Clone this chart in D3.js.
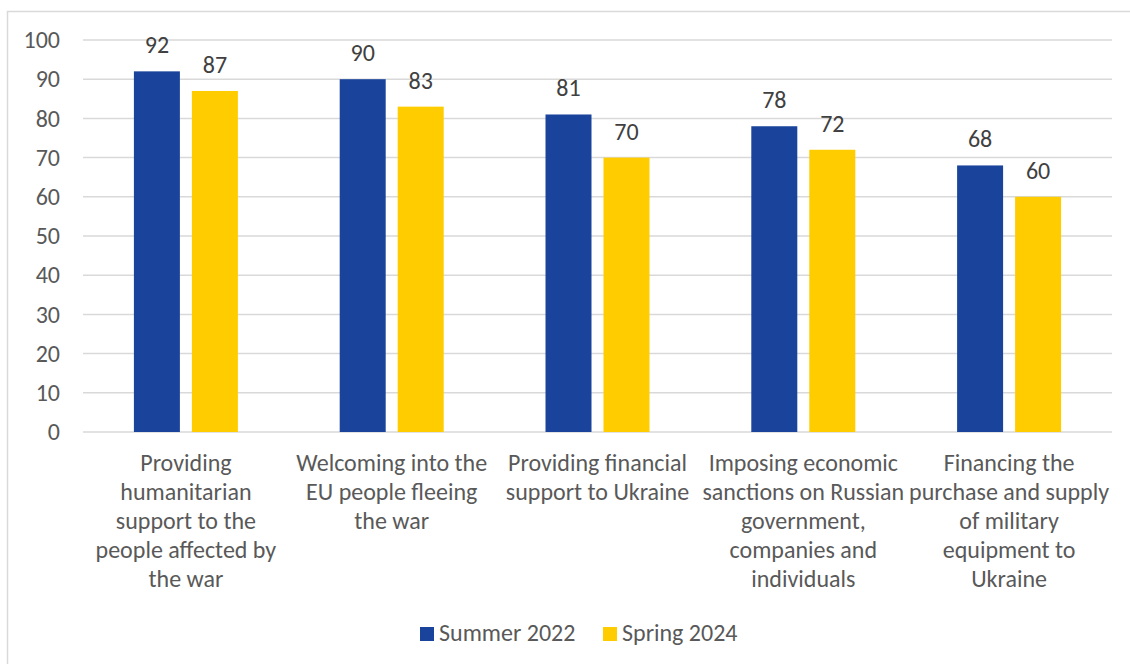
<!DOCTYPE html>
<html>
<head>
<meta charset="utf-8">
<script src="https://cdn.jsdelivr.net/npm/d3@7"></script>
<style>
  body { margin: 0; background: #fff; }
  svg text { font-family: Carlito, Calibri, Lato, "Open Sans", sans-serif; }
</style>
</head>
<body>
<svg id="chart"></svg>
<script>
// categories (wrapped as in the picture)
const categories = [
  ["Providing", "humanitarian", "support to the", "people affected by", "the war"],
  ["Welcoming into the", "EU people fleeing", "the war"],
  ["Providing financial", "support to Ukraine"],
  ["Imposing economic", "sanctions on Russian", "government,", "companies and", "individuals"],
  ["Financing the", "purchase and supply", "of military", "equipment to", "Ukraine"]
];
const seriesNames = ["Summer 2022", "Spring 2024"];
const summer2022 = [92, 90, 81, 78, 68];
const spring2024 = [87, 83, 70, 72, 60];
const yTicks = [0, 10, 20, 30, 40, 50, 60, 70, 80, 90, 100];
const colors = ["#1a449b", "#ffcc00"];

const W = 1130, H = 664;
const margin = { top: 40, right: 18, bottom: 232, left: 83 };
const width = W - margin.left - margin.right;
const height = H - margin.top - margin.bottom;
const fs = 24;

const svg = d3.select("#chart").attr("width", W).attr("height", H);

// outer frame
svg.append("rect")
  .attr("x", 7.5).attr("y", 11.5)
  .attr("width", W + 20).attr("height", H + 20)
  .attr("fill", "none").attr("stroke", "#d9d9d9").attr("stroke-width", 1.5);

const g = svg.append("g").attr("transform", `translate(${margin.left},${margin.top})`);

const idx = d3.range(categories.length);
const x = d3.scaleBand().domain(idx).range([0, width]).paddingInner(0).paddingOuter(0);
const y = d3.scaleLinear().domain([0, 100]).range([height, 0]);

// gridlines
g.append("g").selectAll("line").data(yTicks).join("line")
  .attr("x1", 0).attr("x2", width)
  .attr("y1", d => y(d)).attr("y2", d => y(d))
  .attr("stroke", "#d9d9d9").attr("stroke-width", 1.5);

// y axis labels
const yAxis = g.append("g").call(d3.axisLeft(y).tickValues(yTicks).tickSize(0).tickPadding(23));
yAxis.select(".domain").remove();
yAxis.selectAll("text")
  .style("font-family", "Carlito, Calibri, Lato, 'Open Sans', sans-serif")
  .attr("font-size", fs).attr("fill", "#595959");

// bars
const barW = 46, gap = 12;
const series = [summer2022, spring2024];
series.forEach((vals, s) => {
  const off = s === 0 ? -gap / 2 - barW : gap / 2;
  const cx = i => x(i) + x.bandwidth() / 2 + off;
  g.append("g").selectAll("rect").data(vals).join("rect")
    .attr("x", (d, i) => cx(i))
    .attr("y", d => y(d))
    .attr("width", barW)
    .attr("height", d => height - y(d))
    .attr("fill", colors[s]);
  g.append("g").selectAll("text").data(vals).join("text")
    .attr("x", (d, i) => cx(i) + barW / 2)
    .attr("y", d => y(d) - 18)
    .attr("text-anchor", "middle")
    .attr("font-size", fs).attr("fill", "#404040")
    .text(d => d);
});

// category labels
const cat = g.append("g").selectAll("text").data(categories).join("text")
  .attr("text-anchor", "middle")
  .attr("font-size", fs).attr("fill", "#595959")
  .attr("transform", (d, i) => `translate(${x(i) + x.bandwidth() / 2},${height + 39})`);
cat.selectAll("tspan").data(d => d).join("tspan")
  .attr("x", 0).attr("dy", (d, j) => j === 0 ? 0 : 29)
  .text(d => d);

// legend
const legend = svg.append("g").attr("transform", "translate(420,627)");
const items = [{ x: 0 }, { x: 183 }];
seriesNames.forEach((name, s) => {
  const it = legend.append("g").attr("transform", `translate(${items[s].x},0)`);
  it.append("rect").attr("width", 14).attr("height", 14).attr("fill", colors[s]);
  it.append("text").attr("x", 19).attr("y", 14)
    .attr("font-size", fs).attr("fill", "#595959").text(name);
});
</script>
</body>
</html>
